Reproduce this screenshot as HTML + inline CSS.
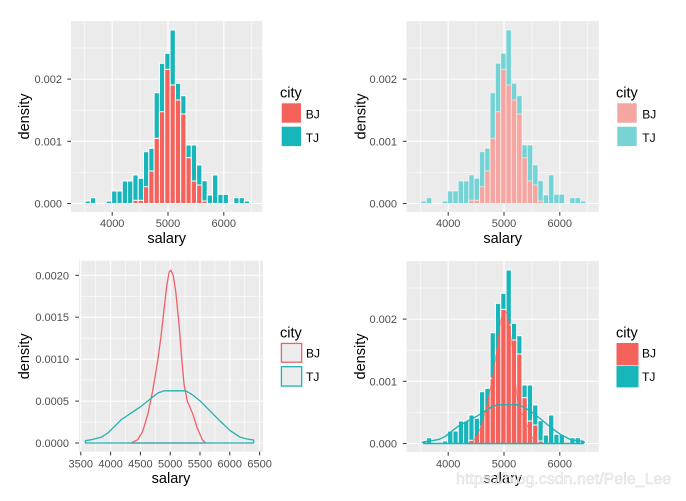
<!DOCTYPE html>
<html><head><meta charset="utf-8"><style>
html,body{margin:0;padding:0;background:#fff;}
svg{display:block;font-family:"Liberation Sans",Arial,sans-serif;}
.tk{font-size:11px;fill:#4D4D4D;}
.ttl{font-size:14.5px;fill:#000;}
.lg{font-size:12px;fill:#000;}
.gM{stroke:#fff;stroke-width:1.07;fill:none;}
.gm{stroke:#fff;stroke-width:0.53;fill:none;}
.tm{stroke:#333;stroke-width:1;}
</style></head><body>
<svg width="686" height="501" viewBox="0 0 686 501" xmlns="http://www.w3.org/2000/svg">
<defs>
<clipPath id="redclip"><polygon points="467.3,443.5 473.6,441.0 478.2,434.5 482.9,421.7 487.5,403.7 492.2,380.6 495.2,362.6 498.4,339.4 500.8,321.9 503.1,311.5 504.6,310.3 506.8,314.1 509.2,326.4 512.4,352.3 514.8,378.2 517.0,398.6 520.1,411.4 524.8,420.4 529.4,431.9 534.0,441.0 537.1,443.5"/></clipPath>
</defs>
<rect width="686" height="501" fill="#fff"/>

<!-- ============ TOP-LEFT ============ -->
<rect x="71" y="21" width="191.3" height="191" fill="#EBEBEB"/>
<g class="gm">
<line x1="71" x2="262.3" y1="172.4" y2="172.4"/><line x1="71" x2="262.3" y1="110.2" y2="110.2"/><line x1="71" x2="262.3" y1="48" y2="48"/>
<line x1="84.3" x2="84.3" y1="21" y2="212"/><line x1="140.1" x2="140.1" y1="21" y2="212"/><line x1="195.9" x2="195.9" y1="21" y2="212"/><line x1="251.7" x2="251.7" y1="21" y2="212"/>
</g>
<g class="gM">
<line x1="71" x2="262.3" y1="203.5" y2="203.5"/><line x1="71" x2="262.3" y1="141.3" y2="141.3"/><line x1="71" x2="262.3" y1="79.1" y2="79.1"/>
<line x1="112.2" x2="112.2" y1="21" y2="212"/><line x1="168" x2="168" y1="21" y2="212"/><line x1="223.8" x2="223.8" y1="21" y2="212"/>
</g>
<g>
<g fill="#16B6BA" stroke="#fff" stroke-width="1">
<rect x="85.1" y="201" width="5.31" height="2.5"/>
<rect x="90.41" y="197.7" width="5.31" height="5.8"/>
<rect x="106.34" y="201" width="5.31" height="2.5"/>
<rect x="111.65" y="191" width="5.31" height="12.5"/>
<rect x="116.96" y="191" width="5.31" height="12.5"/>
<rect x="122.27" y="181" width="5.31" height="22.5"/>
<rect x="127.58" y="181" width="5.31" height="22.5"/>
<rect x="132.89" y="175" width="5.31" height="28.5"/>
<rect x="138.2" y="178.3" width="5.31" height="25.2"/>
<rect x="143.51" y="151.7" width="5.31" height="51.8"/>
<rect x="148.82" y="148.3" width="5.31" height="55.2"/>
<rect x="154.13" y="92.7" width="5.31" height="110.8"/>
<rect x="159.44" y="63.3" width="5.31" height="140.2"/>
<rect x="164.75" y="53.3" width="5.31" height="150.2"/>
<rect x="170.06" y="30" width="5.31" height="173.5"/>
<rect x="175.37" y="83.3" width="5.31" height="120.2"/>
<rect x="180.68" y="95.7" width="5.31" height="107.8"/>
<rect x="185.99" y="145" width="5.31" height="58.5"/>
<rect x="191.3" y="145" width="5.31" height="58.5"/>
<rect x="196.61" y="165" width="5.31" height="38.5"/>
<rect x="201.92" y="180.7" width="5.31" height="22.8"/>
<rect x="207.23" y="195" width="5.31" height="8.5"/>
<rect x="212.54" y="175" width="5.31" height="28.5"/>
<rect x="217.85" y="194.3" width="5.31" height="9.2"/>
<rect x="223.16" y="194.3" width="5.31" height="9.2"/>
<rect x="233.78" y="197.7" width="5.31" height="5.8"/>
<rect x="239.09" y="197.7" width="5.31" height="5.8"/>
<rect x="244.4" y="201" width="5.31" height="2.5"/>
</g>
<g fill="#F5625C" stroke="#fff" stroke-width="1">
<rect x="132.89" y="200.3" width="5.31" height="3.2"/>
<rect x="138.2" y="200.3" width="5.31" height="3.2"/>
<rect x="143.51" y="186.7" width="5.31" height="16.8"/>
<rect x="148.82" y="171" width="5.31" height="32.5"/>
<rect x="154.13" y="138.3" width="5.31" height="65.2"/>
<rect x="159.44" y="111.7" width="5.31" height="91.8"/>
<rect x="164.75" y="69.3" width="5.31" height="134.2"/>
<rect x="170.06" y="85" width="5.31" height="118.5"/>
<rect x="175.37" y="100" width="5.31" height="103.5"/>
<rect x="180.68" y="114" width="5.31" height="89.5"/>
<rect x="185.99" y="157.7" width="5.31" height="45.8"/>
<rect x="191.3" y="181" width="5.31" height="22.5"/>
<rect x="196.61" y="185" width="5.31" height="18.5"/>
<rect x="201.92" y="201" width="5.31" height="2.5"/>
</g>
</g>
<g class="tm">
<line x1="67.3" x2="71" y1="203.5" y2="203.5"/><line x1="67.3" x2="71" y1="141.3" y2="141.3"/><line x1="67.3" x2="71" y1="79.1" y2="79.1"/>
<line x1="112.2" x2="112.2" y1="212" y2="215.7"/><line x1="168" x2="168" y1="212" y2="215.7"/><line x1="223.8" x2="223.8" y1="212" y2="215.7"/>
</g>
<g class="tk" text-anchor="end">
<text x="62" y="207.5">0.000</text><text x="62" y="145.3">0.001</text><text x="62" y="83.1">0.002</text>
</g>
<g class="tk" text-anchor="middle">
<text x="112.2" y="227">4000</text><text x="168" y="227">5000</text><text x="223.8" y="227">6000</text>
</g>
<text class="ttl" x="166.7" y="243" text-anchor="middle">salary</text>
<text class="ttl" transform="translate(29,116.5) rotate(-90)" text-anchor="middle">density</text>
<text class="ttl" x="280" y="97.3">city</text>
<rect x="281.7" y="103.3" width="19.3" height="19.4" fill="#F5625C"/>
<rect x="281.7" y="126.7" width="19.3" height="19.4" fill="#16B6BA"/>
<text class="lg" x="305.7" y="118.5">BJ</text>
<text class="lg" x="305.7" y="142">TJ</text>

<!-- ============ TOP-RIGHT ============ -->
<rect x="406.5" y="21" width="192.3" height="191" fill="#EBEBEB"/>
<g class="gm">
<line x1="406.5" x2="598.8" y1="172.4" y2="172.4"/><line x1="406.5" x2="598.8" y1="110.2" y2="110.2"/><line x1="406.5" x2="598.8" y1="48" y2="48"/>
<line x1="420.3" x2="420.3" y1="21" y2="212"/><line x1="476.1" x2="476.1" y1="21" y2="212"/><line x1="531.9" x2="531.9" y1="21" y2="212"/><line x1="587.7" x2="587.7" y1="21" y2="212"/>
</g>
<g class="gM">
<line x1="406.5" x2="598.8" y1="203.5" y2="203.5"/><line x1="406.5" x2="598.8" y1="141.3" y2="141.3"/><line x1="406.5" x2="598.8" y1="79.1" y2="79.1"/>
<line x1="448.2" x2="448.2" y1="21" y2="212"/><line x1="504" x2="504" y1="21" y2="212"/><line x1="559.8" x2="559.8" y1="21" y2="212"/>
</g>
<g transform="translate(336,0)">
<g fill="#75D3D5" stroke="#fff" stroke-opacity="0.55" stroke-width="1">
<rect x="85.1" y="201" width="5.31" height="2.5"/>
<rect x="90.41" y="197.7" width="5.31" height="5.8"/>
<rect x="106.34" y="201" width="5.31" height="2.5"/>
<rect x="111.65" y="191" width="5.31" height="12.5"/>
<rect x="116.96" y="191" width="5.31" height="12.5"/>
<rect x="122.27" y="181" width="5.31" height="22.5"/>
<rect x="127.58" y="181" width="5.31" height="22.5"/>
<rect x="132.89" y="175" width="5.31" height="28.5"/>
<rect x="138.2" y="178.3" width="5.31" height="25.2"/>
<rect x="143.51" y="151.7" width="5.31" height="51.8"/>
<rect x="148.82" y="148.3" width="5.31" height="55.2"/>
<rect x="154.13" y="92.7" width="5.31" height="110.8"/>
<rect x="159.44" y="63.3" width="5.31" height="140.2"/>
<rect x="164.75" y="53.3" width="5.31" height="150.2"/>
<rect x="170.06" y="30" width="5.31" height="173.5"/>
<rect x="175.37" y="83.3" width="5.31" height="120.2"/>
<rect x="180.68" y="95.7" width="5.31" height="107.8"/>
<rect x="185.99" y="145" width="5.31" height="58.5"/>
<rect x="191.3" y="145" width="5.31" height="58.5"/>
<rect x="196.61" y="165" width="5.31" height="38.5"/>
<rect x="201.92" y="180.7" width="5.31" height="22.8"/>
<rect x="207.23" y="195" width="5.31" height="8.5"/>
<rect x="212.54" y="175" width="5.31" height="28.5"/>
<rect x="217.85" y="194.3" width="5.31" height="9.2"/>
<rect x="223.16" y="194.3" width="5.31" height="9.2"/>
<rect x="233.78" y="197.7" width="5.31" height="5.8"/>
<rect x="239.09" y="197.7" width="5.31" height="5.8"/>
<rect x="244.4" y="201" width="5.31" height="2.5"/>
</g>
<g fill="#F4A6A1" stroke="#fff" stroke-opacity="0.55" stroke-width="1">
<rect x="132.89" y="200.3" width="5.31" height="3.2"/>
<rect x="138.2" y="200.3" width="5.31" height="3.2"/>
<rect x="143.51" y="186.7" width="5.31" height="16.8"/>
<rect x="148.82" y="171" width="5.31" height="32.5"/>
<rect x="154.13" y="138.3" width="5.31" height="65.2"/>
<rect x="159.44" y="111.7" width="5.31" height="91.8"/>
<rect x="164.75" y="69.3" width="5.31" height="134.2"/>
<rect x="170.06" y="85" width="5.31" height="118.5"/>
<rect x="175.37" y="100" width="5.31" height="103.5"/>
<rect x="180.68" y="114" width="5.31" height="89.5"/>
<rect x="185.99" y="157.7" width="5.31" height="45.8"/>
<rect x="191.3" y="181" width="5.31" height="22.5"/>
<rect x="196.61" y="185" width="5.31" height="18.5"/>
<rect x="201.92" y="201" width="5.31" height="2.5"/>
</g>
</g>
<g class="tm">
<line x1="402.8" x2="406.5" y1="203.5" y2="203.5"/><line x1="402.8" x2="406.5" y1="141.3" y2="141.3"/><line x1="402.8" x2="406.5" y1="79.1" y2="79.1"/>
<line x1="448.2" x2="448.2" y1="212" y2="215.7"/><line x1="504" x2="504" y1="212" y2="215.7"/><line x1="559.8" x2="559.8" y1="212" y2="215.7"/>
</g>
<g class="tk" text-anchor="end">
<text x="397" y="207.5">0.000</text><text x="397" y="145.3">0.001</text><text x="397" y="83.1">0.002</text>
</g>
<g class="tk" text-anchor="middle">
<text x="448.2" y="227">4000</text><text x="504" y="227">5000</text><text x="559.8" y="227">6000</text>
</g>
<text class="ttl" x="502.7" y="243" text-anchor="middle">salary</text>
<text class="ttl" transform="translate(365.5,116.5) rotate(-90)" text-anchor="middle">density</text>
<text class="ttl" x="616" y="97.3">city</text>
<rect x="617.3" y="103.3" width="19.4" height="19.4" fill="#F4A6A1"/>
<rect x="617.3" y="126.7" width="19.4" height="19.4" fill="#78D3D5"/>
<text class="lg" x="642.3" y="118.5">BJ</text>
<text class="lg" x="642.3" y="142">TJ</text>

<!-- ============ BOTTOM-LEFT ============ -->
<rect x="79" y="260.7" width="184" height="191" fill="#EBEBEB"/>
<g class="gm">
<line x1="79" x2="263" y1="422.05" y2="422.05"/><line x1="79" x2="263" y1="380.15" y2="380.15"/><line x1="79" x2="263" y1="338.2" y2="338.2"/><line x1="79" x2="263" y1="296.25" y2="296.25"/>
<line x1="95.7" x2="95.7" y1="260.7" y2="451.7"/><line x1="125.5" x2="125.5" y1="260.7" y2="451.7"/><line x1="155.3" x2="155.3" y1="260.7" y2="451.7"/><line x1="185.1" x2="185.1" y1="260.7" y2="451.7"/><line x1="214.9" x2="214.9" y1="260.7" y2="451.7"/><line x1="244.7" x2="244.7" y1="260.7" y2="451.7"/>
</g>
<g class="gM">
<line x1="79" x2="263" y1="443" y2="443"/><line x1="79" x2="263" y1="401.1" y2="401.1"/><line x1="79" x2="263" y1="359.2" y2="359.2"/><line x1="79" x2="263" y1="317.2" y2="317.2"/><line x1="79" x2="263" y1="275.3" y2="275.3"/>
<line x1="80.8" x2="80.8" y1="260.7" y2="451.7"/><line x1="110.6" x2="110.6" y1="260.7" y2="451.7"/><line x1="140.4" x2="140.4" y1="260.7" y2="451.7"/><line x1="170.2" x2="170.2" y1="260.7" y2="451.7"/><line x1="200" x2="200" y1="260.7" y2="451.7"/><line x1="229.8" x2="229.8" y1="260.7" y2="451.7"/><line x1="259.6" x2="259.6" y1="260.7" y2="451.7"/>
</g>
<polygon fill="none" stroke="#F0606A" stroke-width="1.3" stroke-linejoin="round" points="131.0,443 137.7,439.7 142.7,431.3 147.7,414.7 152.6,391.4 157.6,361.4 160.8,338.2 164.2,308.0 166.8,285.3 169.2,271.9 170.8,270.2 173.2,275.3 175.7,291.2 179.1,324.8 181.7,358.3 184.1,384.8 187.4,401.4 192.4,413.1 197.3,428.0 202.3,439.7 205.6,443"/>
<polygon fill="none" stroke="#22B2B4" stroke-width="1.3" stroke-linejoin="round" points="85.4,443 85.4,440.7 91.3,439.7 101.2,437.3 107.9,433.0 114.6,426.3 121.1,419.8 131.0,413.1 141.0,406.4 149.3,399.8 157.6,393.1 164.2,390.8 174.2,390.8 185.7,390.8 192.4,394.8 200.6,401.4 210.5,411.4 220.4,421.4 230.4,430.8 240.3,437.3 247.0,439.0 253.6,440.0 253.6,443"/>
<g class="tm">
<line x1="75.3" x2="79" y1="443" y2="443"/><line x1="75.3" x2="79" y1="401.1" y2="401.1"/><line x1="75.3" x2="79" y1="359.2" y2="359.2"/><line x1="75.3" x2="79" y1="317.2" y2="317.2"/><line x1="75.3" x2="79" y1="275.3" y2="275.3"/>
<line x1="80.8" x2="80.8" y1="451.7" y2="455.4"/><line x1="110.6" x2="110.6" y1="451.7" y2="455.4"/><line x1="140.4" x2="140.4" y1="451.7" y2="455.4"/><line x1="170.2" x2="170.2" y1="451.7" y2="455.4"/><line x1="200" x2="200" y1="451.7" y2="455.4"/><line x1="229.8" x2="229.8" y1="451.7" y2="455.4"/><line x1="259.6" x2="259.6" y1="451.7" y2="455.4"/>
</g>
<g class="tk" text-anchor="end">
<text x="69" y="447">0.0000</text><text x="69" y="405.1">0.0005</text><text x="69" y="363.2">0.0010</text><text x="69" y="321.2">0.0015</text><text x="69" y="279.3">0.0020</text>
</g>
<g class="tk" text-anchor="middle">
<text x="80.8" y="467.5">3500</text><text x="110.6" y="467.5">4000</text><text x="140.4" y="467.5">4500</text><text x="170.2" y="467.5">5000</text><text x="200" y="467.5">5500</text><text x="229.8" y="467.5">6000</text><text x="259.6" y="467.5">6500</text>
</g>
<text class="ttl" x="171" y="483" text-anchor="middle">salary</text>
<text class="ttl" transform="translate(29,356.3) rotate(-90)" text-anchor="middle">density</text>
<text class="ttl" x="280" y="337.3">city</text>
<rect x="281.4" y="343.4" width="20.3" height="18.8" fill="#EDEDED" stroke="#F0606A" stroke-width="1.3"/>
<rect x="281.4" y="366.7" width="20.3" height="19.4" fill="#EDEDED" stroke="#22B2B4" stroke-width="1.3"/>
<text class="lg" x="306" y="357.5">BJ</text>
<text class="lg" x="306" y="380.8">TJ</text>

<!-- ============ BOTTOM-RIGHT ============ -->
<rect x="406.5" y="261" width="192.3" height="191" fill="#EBEBEB"/>
<g class="gm">
<line x1="406.5" x2="598.8" y1="412.4" y2="412.4"/><line x1="406.5" x2="598.8" y1="350.2" y2="350.2"/><line x1="406.5" x2="598.8" y1="288" y2="288"/>
<line x1="420.3" x2="420.3" y1="261" y2="452"/><line x1="476.1" x2="476.1" y1="261" y2="452"/><line x1="531.9" x2="531.9" y1="261" y2="452"/><line x1="587.7" x2="587.7" y1="261" y2="452"/>
</g>
<g class="gM">
<line x1="406.5" x2="598.8" y1="443.5" y2="443.5"/><line x1="406.5" x2="598.8" y1="381.3" y2="381.3"/><line x1="406.5" x2="598.8" y1="319.1" y2="319.1"/>
<line x1="448.2" x2="448.2" y1="261" y2="452"/><line x1="504" x2="504" y1="261" y2="452"/><line x1="559.8" x2="559.8" y1="261" y2="452"/>
</g>
<g transform="translate(336,240)">
<g fill="#16B6BA" stroke="#fff" stroke-width="1">
<rect x="85.1" y="201" width="5.31" height="2.5"/>
<rect x="90.41" y="197.7" width="5.31" height="5.8"/>
<rect x="106.34" y="201" width="5.31" height="2.5"/>
<rect x="111.65" y="191" width="5.31" height="12.5"/>
<rect x="116.96" y="191" width="5.31" height="12.5"/>
<rect x="122.27" y="181" width="5.31" height="22.5"/>
<rect x="127.58" y="181" width="5.31" height="22.5"/>
<rect x="132.89" y="175" width="5.31" height="28.5"/>
<rect x="138.2" y="178.3" width="5.31" height="25.2"/>
<rect x="143.51" y="151.7" width="5.31" height="51.8"/>
<rect x="148.82" y="148.3" width="5.31" height="55.2"/>
<rect x="154.13" y="92.7" width="5.31" height="110.8"/>
<rect x="159.44" y="63.3" width="5.31" height="140.2"/>
<rect x="164.75" y="53.3" width="5.31" height="150.2"/>
<rect x="170.06" y="30" width="5.31" height="173.5"/>
<rect x="175.37" y="83.3" width="5.31" height="120.2"/>
<rect x="180.68" y="95.7" width="5.31" height="107.8"/>
<rect x="185.99" y="145" width="5.31" height="58.5"/>
<rect x="191.3" y="145" width="5.31" height="58.5"/>
<rect x="196.61" y="165" width="5.31" height="38.5"/>
<rect x="201.92" y="180.7" width="5.31" height="22.8"/>
<rect x="207.23" y="195" width="5.31" height="8.5"/>
<rect x="212.54" y="175" width="5.31" height="28.5"/>
<rect x="217.85" y="194.3" width="5.31" height="9.2"/>
<rect x="223.16" y="194.3" width="5.31" height="9.2"/>
<rect x="233.78" y="197.7" width="5.31" height="5.8"/>
<rect x="239.09" y="197.7" width="5.31" height="5.8"/>
<rect x="244.4" y="201" width="5.31" height="2.5"/>
</g>
<g fill="#F5625C" stroke="#fff" stroke-width="1">
<rect x="132.89" y="200.3" width="5.31" height="3.2"/>
<rect x="138.2" y="200.3" width="5.31" height="3.2"/>
<rect x="143.51" y="186.7" width="5.31" height="16.8"/>
<rect x="148.82" y="171" width="5.31" height="32.5"/>
<rect x="154.13" y="138.3" width="5.31" height="65.2"/>
<rect x="159.44" y="111.7" width="5.31" height="91.8"/>
<rect x="164.75" y="69.3" width="5.31" height="134.2"/>
<rect x="170.06" y="85" width="5.31" height="118.5"/>
<rect x="175.37" y="100" width="5.31" height="103.5"/>
<rect x="180.68" y="114" width="5.31" height="89.5"/>
<rect x="185.99" y="157.7" width="5.31" height="45.8"/>
<rect x="191.3" y="181" width="5.31" height="22.5"/>
<rect x="196.61" y="185" width="5.31" height="18.5"/>
<rect x="201.92" y="201" width="5.31" height="2.5"/>
</g>
</g>
<polygon fill="#F5625C" stroke="#F5625C" stroke-width="1.2" stroke-linejoin="round" points="467.3,443.5 473.6,441.0 478.2,434.5 482.9,421.7 487.5,403.7 492.2,380.6 495.2,362.6 498.4,339.4 500.8,321.9 503.1,311.5 504.6,310.3 506.8,314.1 509.2,326.4 512.4,352.3 514.8,378.2 517.0,398.6 520.1,411.4 524.8,420.4 529.4,431.9 534.0,441.0 537.1,443.5"/>
<g clip-path="url(#redclip)" stroke="#fff" stroke-width="1" opacity="0.85">
<line x1="468.89" x2="468.89" y1="300" y2="444"/><line x1="474.2" x2="474.2" y1="300" y2="444"/><line x1="479.51" x2="479.51" y1="300" y2="444"/><line x1="484.82" x2="484.82" y1="300" y2="444"/><line x1="490.13" x2="490.13" y1="300" y2="444"/><line x1="495.44" x2="495.44" y1="300" y2="444"/><line x1="500.75" x2="500.75" y1="300" y2="444"/><line x1="506.06" x2="506.06" y1="300" y2="444"/><line x1="511.37" x2="511.37" y1="300" y2="444"/><line x1="516.68" x2="516.68" y1="300" y2="444"/><line x1="521.99" x2="521.99" y1="300" y2="444"/><line x1="527.3" x2="527.3" y1="300" y2="444"/><line x1="532.61" x2="532.61" y1="300" y2="444"/>
</g>
<polygon fill="none" stroke="#1FB3B6" stroke-width="1.4" stroke-linejoin="round" points="423.6,443.5 423.6,441.8 430.2,441.1 439.4,439.3 445.7,436.1 451.9,431.1 458.1,426.3 467.3,421.3 476.7,416.3 484.5,411.5 492.2,406.5 498.4,404.8 507.7,404.8 518.5,404.8 524.8,407.7 532.5,412.6 541.8,420.0 551.0,427.5 560.4,434.4 569.7,439.3 575.9,440.5 583.3,441.3 583.3,443.5"/>
<g class="tm">
<line x1="402.8" x2="406.5" y1="443.5" y2="443.5"/><line x1="402.8" x2="406.5" y1="381.3" y2="381.3"/><line x1="402.8" x2="406.5" y1="319.1" y2="319.1"/>
<line x1="448.2" x2="448.2" y1="452" y2="455.7"/><line x1="504" x2="504" y1="452" y2="455.7"/><line x1="559.8" x2="559.8" y1="452" y2="455.7"/>
</g>
<g class="tk" text-anchor="end">
<text x="397" y="447.5">0.000</text><text x="397" y="385.3">0.001</text><text x="397" y="323.1">0.002</text>
</g>
<g class="tk" text-anchor="middle">
<text x="448.2" y="467.5">4000</text><text x="504" y="467.5">5000</text><text x="559.8" y="467.5">6000</text>
</g>
<text class="ttl" x="502.7" y="483" text-anchor="middle">salary</text>
<text class="ttl" transform="translate(365,356.5) rotate(-90)" text-anchor="middle">density</text>
<text class="ttl" x="616" y="337.3">city</text>
<rect x="616.5" y="343" width="22" height="22.2" fill="#F5625C"/>
<rect x="616.5" y="365.8" width="22" height="21.6" fill="#16B6BA"/>
<text class="lg" x="642" y="357.5">BJ</text>
<text class="lg" x="642" y="380.8">TJ</text>

<text x="456" y="484" font-size="16" fill="#f3f3f3" stroke="#d6d6d6" stroke-width="0.5" opacity="0.9">https://blog.csdn.net/Pele_Lee</text>
</svg>
</body></html>
